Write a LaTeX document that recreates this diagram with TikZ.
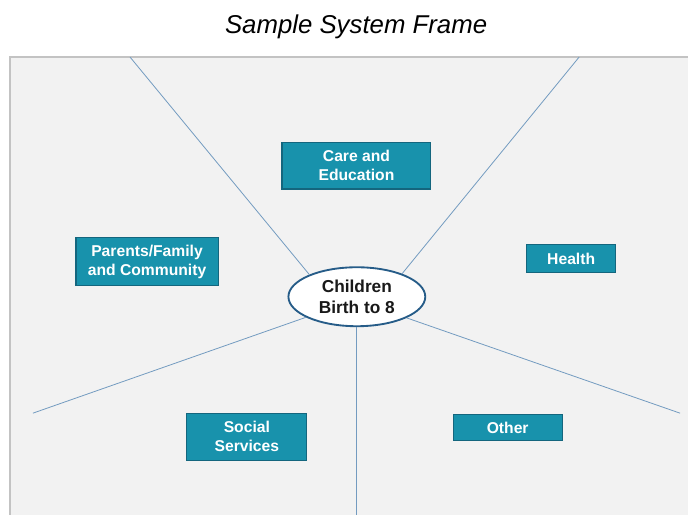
\documentclass[tikz,border=0pt]{standalone}
\usepackage{fontspec}
\setmainfont{Liberation Sans}
\usetikzlibrary{shapes.geometric}

\begin{document}
\begin{tikzpicture}[every node/.style={font=\bfseries\fontsize{11.8}{14.2}\selectfont}]

    % parámetros
    \def\W{18.2}     % ancho total (cm)
    \def\H{13.6}     % alto total (cm)
    \def\xL{0.27}    % borde izquierdo del marco
    \def\yT{12.09}   % borde superior del marco

    % colores
    \definecolor{framefill}{RGB}{242,242,242}
    \definecolor{framegray}{RGB}{195,195,195}
    \definecolor{boxteal}{RGB}{24,146,172}
    \definecolor{boxedge}{RGB}{20,102,126}
    \definecolor{hubblue}{RGB}{38,92,136}
    \definecolor{spokeblue}{RGB}{115,155,192}

    \tikzset{
      sysbox/.style={draw=boxedge, line width=0.8pt, fill=boxteal, text=white, align=center, inner sep=0pt},
      hub/.style={ellipse, draw=hubblue, line width=1.4pt, fill=white, align=center, inner sep=0pt},
      spoke/.style={draw=spokeblue, line width=0.6pt}
    }

    % lienzo
    \useasboundingbox (0,0) rectangle (\W,\H);
    \fill[white] (0,0) rectangle (\W,\H);
    \clip (0,0) rectangle (\W,\H);

    % --- Título ---
    \node[anchor=base, font=\itshape\fontsize{19.4}{23}\selectfont] (title) at (9.42,12.72) {Sample System Frame};

    % --- Marco gris ---
    \draw[framegray, line width=1.5pt, fill=framefill] (\xL,-1) rectangle (\W+1,\yT);

    % nodo central
    \node[hub, minimum width=3.62cm, minimum height=1.56cm, text=black!90,
          font=\bfseries\fontsize{13}{15.6}\selectfont] (kids) at (9.44,5.75) {Children\\Birth to 8};

    % extremos de las líneas
    \coordinate (tl) at (3.44,\yT);
    \coordinate (tr) at (15.32,\yT);
    \coordinate (ll) at (0.87,2.67);
    \coordinate (lr) at (17.99,2.67);
    \coordinate (bt) at (9.44,-0.3);

    % líneas radiales
    \draw[spoke] (kids.155) -- (tl);
    \draw[spoke] (kids.27) -- (tr);
    \draw[spoke] (kids.202) -- (ll);
    \draw[spoke] (kids.337) -- (lr);
    \draw[spoke] (kids.south) -- (bt);

    % --- Cajas ---
    \node[sysbox, minimum width=3.94cm, minimum height=1.24cm] (care) at (9.43,9.22) {Care and\\Education};
    \node[sysbox, minimum width=3.76cm, minimum height=1.27cm] (family) at (3.89,6.67) {Parents/Family\\and Community};
    \node[sysbox, minimum width=2.36cm, minimum height=0.74cm] (health) at (15.11,6.75) {Health};
    \node[sysbox, minimum width=3.17cm, minimum height=1.24cm] (social) at (6.53,2.05) {Social\\Services};
    \node[sysbox, minimum width=2.88cm, minimum height=0.69cm] (other) at (13.43,2.28) {Other};

\end{tikzpicture}
\end{document}
